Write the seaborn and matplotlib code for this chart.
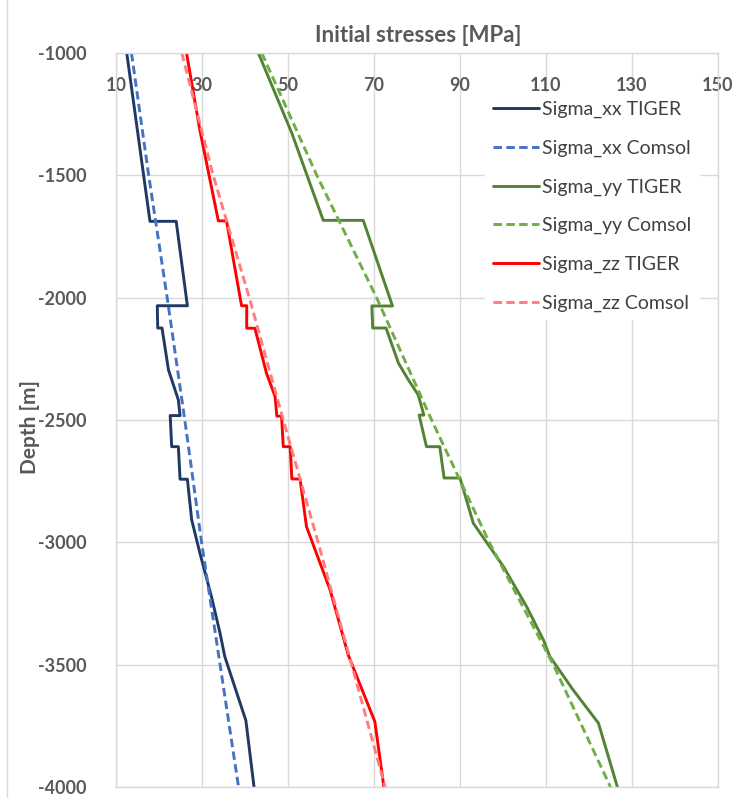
import matplotlib
matplotlib.use("Agg")
import matplotlib.pyplot as plt
import matplotlib.lines as mlines
import seaborn as sns
import pandas as pd

sns.set_theme(style="white")
plt.rcParams['font.family'] = ['Lato', 'DejaVu Sans']
plt.rcParams['axes.unicode_minus'] = False

# ---------------- data ----------------
xx_tiger_depth = [-1000, -1688, -1688, -2033, -2033, -2124, -2124, -2295, -2418, -2482, -2482,
                  -2609, -2609, -2742, -2742, -2908, -3043, -3222, -3372, -3467, -3728, -4000]
xx_tiger_val = [12.5, 17.9, 24.0, 26.6, 19.6, 19.7, 20.7, 22.2, 24.5, 24.9, 22.6,
                22.95, 24.5, 24.9, 26.6, 27.6, 29.5, 32.2, 34.2, 35.3, 40.2, 42.1]

yy_tiger_depth = [-1000, -1328, -1684, -1684, -2034, -2034, -2124, -2124, -2268, -2336, -2398,
                  -2480, -2480, -2609, -2609, -2737, -2737, -2922, -3099, -3263, -3399, -3467,
                  -3603, -3739, -4000]
yy_tiger_val = [43.1, 50.9, 58.2, 67.5, 74.3, 69.5, 69.7, 72.8, 75.7, 78.0, 80.3,
                81.6, 80.5, 82.2, 85.3, 86.3, 90.0, 93.1, 100.1, 105.5, 109.4, 110.9,
                116.3, 122.2, 126.6]

zz_tiger_depth = [-1000, -1315, -1686, -1686, -2033, -2033, -2125, -2125, -2309, -2404, -2484,
                  -2484, -2609, -2609, -2741, -2741, -2936, -3195, -3460, -3733, -4000]
zz_tiger_val = [26.4, 29.5, 33.8, 35.7, 39.2, 40.4, 40.4, 42.3, 45.0, 47.0, 47.4,
                48.5, 48.9, 50.5, 50.9, 52.8, 54.3, 59.8, 64.0, 70.2, 72.3]

comsol_depth = [-1000, -1500, -2000, -2500, -3000, -3500, -4000]
xx_comsol_val = [13.6, 17.6, 21.9, 26.0, 29.9, 34.2, 38.5]
yy_comsol_val = [43.9, 56.7, 70.6, 83.4, 96.8, 111.7, 125.0]
zz_comsol_val = [25.3, 32.6, 41.0, 48.9, 57.0, 64.8, 72.6]

x_ticks = [10, 30, 50, 70, 90, 110, 130, 150]
y_ticks = [-1000, -1500, -2000, -2500, -3000, -3500, -4000]

series = [
    ("Sigma_xx TIGER", xx_tiger_val, xx_tiger_depth, "#1F3864", "-"),
    ("Sigma_xx Comsol", xx_comsol_val, comsol_depth, "#4472C4", "--"),
    ("Sigma_yy TIGER", yy_tiger_val, yy_tiger_depth, "#548235", "-"),
    ("Sigma_yy Comsol", yy_comsol_val, comsol_depth, "#70AD47", "--"),
    ("Sigma_zz TIGER", zz_tiger_val, zz_tiger_depth, "#FF0000", "-"),
    ("Sigma_zz Comsol", zz_comsol_val, comsol_depth, "#FF7C80", "--"),
]

# ---------------- figure ----------------
W, H = 738, 798
fig = plt.figure(figsize=(W / 100, H / 100), dpi=100)
ax = fig.add_axes([116 / W, 1 - 787 / H, (718 - 116) / W, (787 - 53) / H])

dash = (0, (2.9, 1.5))
handles = []
for name, vals, depth, color, ls in series:
    df = pd.DataFrame({"val": vals, "depth": depth})
    sns.lineplot(data=df, x="val", y="depth", sort=False, estimator=None, ax=ax,
                 color=color, linewidth=2.1,
                 linestyle=dash if ls == "--" else "-")
    handles.append(mlines.Line2D([], [], color=color, linewidth=2.1,
                                 linestyle=dash if ls == "--" else "-", label=name))

ax.set_xlim(10, 150)
ax.set_ylim(-4000, -1000)
ax.set_xticks(x_ticks)
ax.set_yticks(y_ticks)
ax.grid(True, color="#D9D9D9", linewidth=1.0)
ax.set_axisbelow(True)
for s in ax.spines.values():
    s.set_color("#D9D9D9")
    s.set_linewidth(1.0)

tick_color = "#595959"
ax.xaxis.tick_top()
ax.tick_params(axis="x", top=True, bottom=False, labeltop=True, labelbottom=False,
               length=0, pad=-29.5, labelsize=13, labelcolor=tick_color)
ax.tick_params(axis="y", length=0, pad=21, labelsize=13, labelcolor=tick_color)
for lbl in ax.get_xticklabels() + ax.get_yticklabels():
    lbl.set_fontweight("bold")

ax.set_xlabel("")
ax.set_ylabel("Depth [m]", fontsize=15, fontweight="bold", color=tick_color)
ax.yaxis.set_label_coords((40 - 116) / 602, 0.49)

fig.text(418 / W, 1 - 36 / H, "Initial stresses [MPa]", ha="center", va="center",
         fontsize=16, fontweight="bold", color=tick_color)

leg = ax.legend(handles=handles, loc="upper right", bbox_to_anchor=(0.968, 0.945),
                frameon=True, fontsize=14, handlelength=2.35, handletextpad=0.15,
                labelspacing=1.1, borderaxespad=0.0, borderpad=0.4)
leg.get_frame().set_facecolor("white")
leg.get_frame().set_edgecolor("white")
leg.get_frame().set_alpha(1.0)
for t in leg.get_texts():
    t.set_color("#404040")

# thin chart border on the left, as in the reference
fig.add_artist(mlines.Line2D([7 / W, 7 / W], [0, 1], transform=fig.transFigure,
                             color="#D9D9D9", linewidth=1.0))

fig.savefig("out.png", dpi=100)
